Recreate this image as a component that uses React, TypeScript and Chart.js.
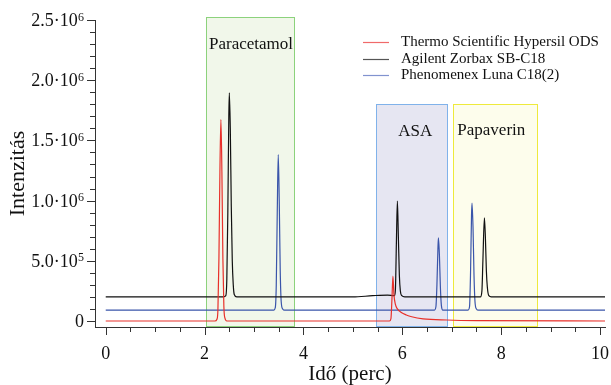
import { useEffect, useRef } from 'react';
import { Chart, registerables } from 'chart.js';

Chart.register(...registerables);

// ---------------- data (intensity in units of 10^6) ----------------
const seriesNames = ['Thermo Scientific Hypersil ODS', 'Agilent Zorbax SB-C18', 'Phenomenex Luna C18(2)'];

const thermoTime = [0, 2.21, 2.25, 2.27, 2.29, 2.31, 2.33, 2.35, 2.37, 2.39, 2.41, 2.45, 5.74, 5.77, 5.79, 5.81, 5.83, 5.86, 5.9, 5.98, 6.08, 6.19, 6.42, 6.9, 7.5, 10.1];
const thermoIntensity = [0, 0, 0.015, 0.1, 0.52, 1.24, 1.674, 1.24, 0.52, 0.12, 0.025, 0, 0, 0.02, 0.18, 0.372, 0.22, 0.137, 0.1, 0.07, 0.05, 0.035, 0.018, 0.008, 0.003, 0];

const agilentTime = [0, 2.38, 2.43, 2.45, 2.47, 2.49, 2.5, 2.52, 2.54, 2.56, 2.58, 2.6, 2.65, 5.0, 5.4, 5.7, 5.84, 5.86, 5.88, 5.9, 5.92, 5.94, 5.96, 5.99, 6.05, 6.5, 7.58, 7.61, 7.63, 7.66, 7.68, 7.7, 7.72, 7.75, 7.8, 10.1];
const agilentIntensity = [0.2, 0.2, 0.21, 0.35, 0.9, 1.7, 1.895, 1.6, 0.95, 0.5, 0.3, 0.22, 0.2, 0.2, 0.21, 0.215, 0.21, 0.26, 0.65, 0.996, 0.7, 0.38, 0.25, 0.21, 0.2, 0.2, 0.2, 0.25, 0.5, 0.857, 0.7, 0.42, 0.28, 0.21, 0.2, 0.2];

const phenomenexTime = [0, 3.4, 3.43, 3.45, 3.47, 3.49, 3.51, 3.53, 3.55, 3.58, 3.62, 6.65, 6.68, 6.7, 6.72, 6.73, 6.75, 6.77, 6.79, 6.82, 7.33, 7.36, 7.38, 7.4, 7.41, 7.43, 7.45, 7.47, 7.5, 7.54, 10.1];
const phenomenexIntensity = [0.09, 0.09, 0.11, 0.3, 0.9, 1.383, 1.0, 0.42, 0.16, 0.1, 0.09, 0.09, 0.12, 0.3, 0.6, 0.69, 0.55, 0.28, 0.13, 0.09, 0.09, 0.12, 0.4, 0.88, 0.98, 0.78, 0.38, 0.16, 0.1, 0.09, 0.09];

const regionNames = ['Paracetamol', 'ASA', 'Papaverin'];
const regionStart = [2.03, 5.47, 7.02];
const regionEnd = [3.81, 6.9, 8.72];
const regionTop = [2.527, 1.8, 1.8];
const regionLabelX = [2.94, 6.26, 7.8];
const regionLabelY = [2.3, 1.576, 1.58];

const xTickValues = [0, 2, 4, 6, 8, 10];
const xTickLabels = ['0', '2', '4', '6', '8', '10'];
const xMinorStep = 0.5;
const yTickValues = [0, 0.5, 1.0, 1.5, 2.0, 2.5];
const yTickMantissa = ['0', '5.0·10', '1.0·10', '1.5·10', '2.0·10', '2.5·10'];
const yTickExponent = ['', '5', '6', '6', '6', '6'];
const yMinorStep = 0.1;

// ---------------- styles ----------------
const FONT = '"Liberation Serif", "Times New Roman", serif';
const seriesColors = ['#e8302a', '#111111', '#3a55aa'];
const legendColors = ['#f06a6a', '#555555', '#8193cf'];
const regionFill = ['#f1f7ea', '#e6e6f2', '#fdfdec'];
const regionBorder = ['#8cd27c', '#80b2ea', '#eeea3c'];
const AXIS = '#333333';
const TEXT = '#111111';

const decorPlugin = {
  id: 'decor',
  beforeDatasetsDraw(chart: any) {
    const { ctx, chartArea, scales } = chart;
    const x = scales.x, y = scales.y;
    ctx.save();
    regionNames.forEach((_, i) => {
      const l = Math.round(x.getPixelForValue(regionStart[i])) + 0.5;
      const r = Math.round(x.getPixelForValue(regionEnd[i])) + 0.5;
      const t = Math.round(y.getPixelForValue(regionTop[i])) + 0.5;
      const b = Math.round(chartArea.bottom) - 0.5;
      ctx.fillStyle = regionFill[i];
      ctx.fillRect(l, t, r - l, b - t);
      ctx.strokeStyle = regionBorder[i];
      ctx.lineWidth = 1;
      ctx.strokeRect(l, t, r - l, b - t);
    });
    ctx.restore();
  },
  afterDraw(chart: any) {
    const { ctx, chartArea, scales } = chart;
    const x = scales.x, y = scales.y;
    ctx.save();
    // region labels
    ctx.fillStyle = TEXT;
    ctx.font = `17px ${FONT}`;
    ctx.textAlign = 'center';
    ctx.textBaseline = 'middle';
    regionNames.forEach((name, i) => {
      ctx.fillText(name, x.getPixelForValue(regionLabelX[i]), y.getPixelForValue(regionLabelY[i]));
    });

    // tick marks
    const left = Math.round(chartArea.left);
    const bottom = Math.round(chartArea.bottom);
    ctx.strokeStyle = AXIS;
    ctx.lineWidth = 1;
    ctx.beginPath();
    const yMax = yTickValues[yTickValues.length - 1];
    for (let k = 0; k * yMinorStep <= yMax + 1e-9; k++) {
      const v = k * yMinorStep;
      const py = Math.round(y.getPixelForValue(v)) + 0.5;
      const len = k % 5 === 0 ? 8 : 5;
      ctx.moveTo(left - len, py);
      ctx.lineTo(left, py);
    }
    const xMax = xTickValues[xTickValues.length - 1];
    for (let k = 0; k * xMinorStep <= xMax + 1e-9; k++) {
      const v = k * xMinorStep;
      const px = Math.round(x.getPixelForValue(v)) + 0.5;
      const len = k % 4 === 0 ? 8 : 5;
      ctx.moveTo(px, bottom);
      ctx.lineTo(px, bottom + len);
    }
    ctx.stroke();

    // x tick labels
    ctx.fillStyle = TEXT;
    ctx.font = `18px ${FONT}`;
    ctx.textAlign = 'center';
    ctx.textBaseline = 'alphabetic';
    xTickValues.forEach((v, i) => {
      ctx.fillText(xTickLabels[i], x.getPixelForValue(v), bottom + 32);
    });

    // y tick labels with superscript exponents
    ctx.textAlign = 'right';
    yTickValues.forEach((v, i) => {
      const py = y.getPixelForValue(v);
      let xr = left - 11;
      if (yTickExponent[i]) {
        ctx.font = `12px ${FONT}`;
        ctx.fillText(yTickExponent[i], xr, py + 0.5);
        xr -= ctx.measureText(yTickExponent[i]).width + 0.3;
      }
      ctx.font = `18px ${FONT}`;
      ctx.fillText(yTickMantissa[i], xr, py + 6);
    });

    // legend
    const rows = [42, 58.5, 75];
    ctx.font = `15px ${FONT}`;
    ctx.textAlign = 'left';
    ctx.textBaseline = 'middle';
    seriesNames.forEach((name, i) => {
      ctx.strokeStyle = legendColors[i];
      ctx.lineWidth = 1.2;
      ctx.beginPath();
      ctx.moveTo(363, Math.round(rows[i]) + 0.5);
      ctx.lineTo(389, Math.round(rows[i]) + 0.5);
      ctx.stroke();
      ctx.fillStyle = TEXT;
      ctx.fillText(name, 401, rows[i] + 0.5);
    });
    ctx.restore();
  },
};

export default function App() {
  const ref = useRef<HTMLCanvasElement | null>(null);

  useEffect(() => {
    document.body.style.margin = '0';
    const canvas = ref.current;
    if (!canvas) return;
    const times = [thermoTime, agilentTime, phenomenexTime];
    const values = [thermoIntensity, agilentIntensity, phenomenexIntensity];
    const chart = new Chart(canvas, {
      type: 'line',
      data: {
        datasets: seriesNames.map((name, i) => ({
          label: name,
          data: times[i].map((t, k) => ({ x: t, y: values[i][k] })),
          borderColor: seriesColors[i],
          borderWidth: 1.2,
          pointRadius: 0,
          fill: false,
          cubicInterpolationMode: 'monotone' as const,
        })),
      },
      options: {
        animation: false,
        responsive: false,
        maintainAspectRatio: false,
        layout: { padding: { top: 20, right: 6, left: 0, bottom: 0 } },
        plugins: { legend: { display: false }, tooltip: { enabled: false } },
        scales: {
          x: {
            type: 'linear',
            min: -0.217,
            max: 10.1,
            afterFit: (s: any) => { s.height = 58; s.paddingLeft = 0; s.paddingRight = 0; },
            grid: { display: false },
            border: { display: true, color: AXIS, width: 1 },
            ticks: { display: false },
            title: {
              display: true,
              text: 'Idő (perc)',
              color: TEXT,
              font: { family: FONT, size: 21, lineHeight: 1.2 },
              padding: { top: 0, bottom: -1.8 },
            },
          },
          y: {
            type: 'linear',
            min: -0.05,
            max: 2.5,
            afterFit: (s: any) => { s.width = 95; s.paddingTop = 0; s.paddingBottom = 0; },
            grid: { display: false },
            border: { display: true, color: AXIS, width: 1 },
            ticks: { display: false },
            title: {
              display: true,
              text: 'Intenzitás',
              color: TEXT,
              font: { family: FONT, size: 22, lineHeight: 1.2 },
              padding: { top: 5, bottom: 0 },
            },
          },
        },
      },
      plugins: [decorPlugin],
    });
    return () => chart.destroy();
  }, []);

  return <canvas ref={ref} width={611} height={385} style={{ display: 'block' }} />;
}
